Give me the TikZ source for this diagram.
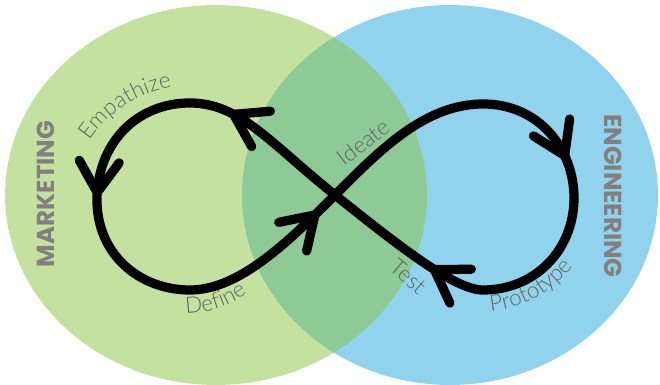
\documentclass[tikz,border=0pt]{standalone}
\usepackage{fontspec}
\usetikzlibrary{decorations.markings,decorations.text}
\IfFontExistsTF{Lato Light}
  {\newfontfamily\lightfont{Lato Light}\newcommand\lblsize{\fontsize{12.8}{15}}}
  {\newfontfamily\lightfont{Liberation Sans}\newcommand\lblsize{\fontsize{12}{14}}}
\newfontfamily\headfont{Poppins}
\newcommand\lblfont{\lightfont\lblsize\selectfont}
\definecolor{lgreen}{RGB}{196,225,160}
\definecolor{lblue}{RGB}{145,211,237}
\definecolor{lover}{RGB}{141,202,150}
\definecolor{labelgray}{RGB}{96,102,96}
\definecolor{headgray}{RGB}{128,128,128}
\tikzset{
  loopline/.style={line width=0.185cm, line cap=round, line join=round, black},
  chev/.style={line width=0.185cm, line cap=round, line join=round, black},
  chevat/.style={postaction={decorate}, decoration={markings,
     mark=at position #1 with {\draw[chev] (-0.62cm,0.40cm) -- (0,0) -- (-0.62cm,-0.40cm);}}},
  lbl/.style={text=labelgray, font=\lblfont, inner sep=0pt},
  head/.style={text=headgray, font=\headfont\bfseries\fontsize{14}{16}\selectfont, inner sep=0pt},
  arclabel/.style={decorate, decoration={text along path, text={|\lblfont|#1}, text align=center, text color=labelgray}}
}
\begin{document}
\begin{tikzpicture}[x=0.02cm,y=0.02cm]
\useasboundingbox (0,0) rectangle (660,385);
% circles
\fill[lgreen] (216,190) ellipse [x radius=4.22cm, y radius=3.8cm];
\fill[lblue] (450,190) ellipse [x radius=4.16cm, y radius=3.8cm];
\begin{scope}
  \clip (216,190) ellipse [x radius=4.22cm, y radius=3.8cm];
  \fill[lover] (450,190) ellipse [x radius=4.16cm, y radius=3.8cm];
\end{scope}
% key points of the loop
\coordinate (C) at (335,190);
\coordinate (TL) at (190,282);
\coordinate (L) at (97,185);
\coordinate (BL) at (190,95);
\coordinate (TR) at (483,281);
\coordinate (R) at (574,187);
\coordinate (BR) at (483,95);
\draw[loopline] (C) .. controls (270,242) and (240,282) .. (TL)
  .. controls (135,282) and (97,240) .. (L)
  .. controls (97,130) and (140,95) .. (BL)
  .. controls (240,95) and (290,145) .. (C)
  .. controls (380,235) and (425,281) .. (TR)
  .. controls (540,281) and (574,235) .. (R)
  .. controls (574,135) and (535,95) .. (BR)
  .. controls (455,95) and (400,138) .. (C);
% arrow heads
\path[chevat=0.74] (C) .. controls (270,242) and (240,282) .. (TL);
\path[chevat=0.95] (TL) .. controls (135,282) and (97,240) .. (L);
\path[chevat=0.84] (BL) .. controls (240,95) and (290,145) .. (C);
\path[chevat=0.70] (TR) .. controls (540,281) and (574,235) .. (R);
\path[chevat=0.30] (BR) .. controls (455,95) and (400,138) .. (C);
% labels
\path[arclabel=Empathize] ([shift={(193.1,174.8)}]160:2.5cm) arc[start angle=160, end angle=86, radius=2.5cm];
\path[arclabel=Define] ([shift={(185.6,176.7)}]260:2.1cm) arc[start angle=260, end angle=316, radius=2.1cm];
\path[arclabel=Prototype] ([shift={(480.9,190.3)}]255:2.34cm) arc[start angle=255, end angle=342, radius=2.34cm];
\node[lbl, rotate=38, anchor=base] (ideate) at (368.5,236.5) {Ideate};
\node[lbl, rotate=-40, anchor=base] (test) at (403.5,102.5) {Test};
\node[head, rotate=90] (mkt) at (46,191) {MARKETING};
\node[head, rotate=-90] (eng) at (613,189) {ENGINEERING};
\end{tikzpicture}
\end{document}
